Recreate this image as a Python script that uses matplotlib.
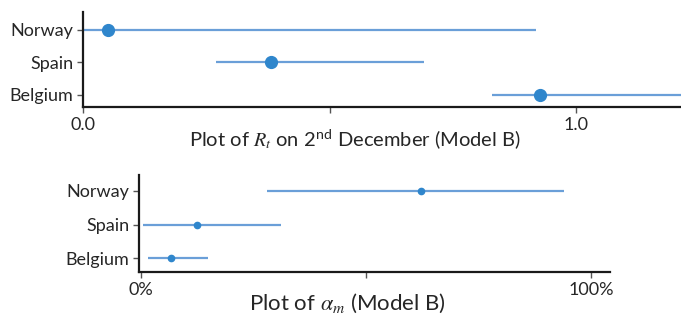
import numpy as np
import matplotlib
matplotlib.use("Agg")
import matplotlib.pyplot as plt

plt.rcParams['font.family'] = ['Lato', 'DejaVu Sans']
plt.rcParams['mathtext.fontset'] = 'custom'
plt.rcParams['mathtext.rm'] = 'Lato'
plt.rcParams['mathtext.it'] = 'STIXGeneral:italic'
plt.rcParams['mathtext.sf'] = 'Lato'

countries = ['Belgium', 'Spain', 'Norway']

# R_t on 2nd December: median and interval
rt_mid = [0.926, 0.382, 0.050]
rt_lo = [0.830, 0.269, 0.0]
rt_hi = [1.30, 0.692, 0.918]

# alpha_m in percent
am_mid = [6.8, 12.4, 62.2]
am_lo = [1.7, 0.4, 28.0]
am_hi = [14.9, 31.2, 94.1]

line_col = '#6a9fd8'
dot_col = '#2f86cc'
txt_col = '#262626'

fig = plt.figure(figsize=(6.81, 3.21), dpi=100)

def style(ax):
    for s in ['top', 'right']:
        ax.spines[s].set_visible(False)
    for s in ['left', 'bottom']:
        ax.spines[s].set_linewidth(1.6)
        ax.spines[s].set_color('#1a1a1a')
    ax.tick_params(axis='both', length=4, width=1, color='#555555',
                   labelsize=13, labelcolor=txt_col, pad=3)

ypos = np.arange(len(countries))

# top panel
ax1 = fig.add_axes([0.1219, 0.6667, 0.8781, 0.2959])
ax1.hlines(ypos, rt_lo, rt_hi, color=line_col, lw=1.6)
ax1.plot(rt_mid, ypos, 'o', color=dot_col, ms=8.5)
ax1.set_xlim(0, 1.213)
ax1.set_ylim(-0.37, 2.55)
ax1.set_yticks(ypos)
ax1.set_yticklabels(countries)
ax1.set_xticks([0, 0.5, 1.0])
ax1.set_xticklabels(['0.0', '', '1.0'])
style(ax1)
fig.text(355 / 681, 1 - 140 / 321, r'Plot of $R_t$ on 2$^{\mathrm{nd}}$ December (Model B)',
         ha='center', va='center', fontsize=14.5, color=txt_col)

# bottom panel
ax2 = fig.add_axes([0.2041, 0.1526, 0.6916, 0.3022])
ax2.hlines(ypos, am_lo, am_hi, color=line_col, lw=1.6)
ax2.plot(am_mid, ypos, 'o', color=dot_col, ms=4.5)
ax2.set_xlim(-0.4, 104.2)
ax2.set_ylim(-0.40, 2.46)
ax2.set_yticks(ypos)
ax2.set_yticklabels(countries)
ax2.set_xticks([0, 50, 100])
ax2.set_xticklabels(['0%', '', '100%'])
style(ax2)
fig.text(347 / 681, 1 - 303 / 321, r'Plot of $\alpha_m$ (Model B)',
         ha='center', va='center', fontsize=16, color=txt_col)

fig.savefig('out.png', dpi=100)
